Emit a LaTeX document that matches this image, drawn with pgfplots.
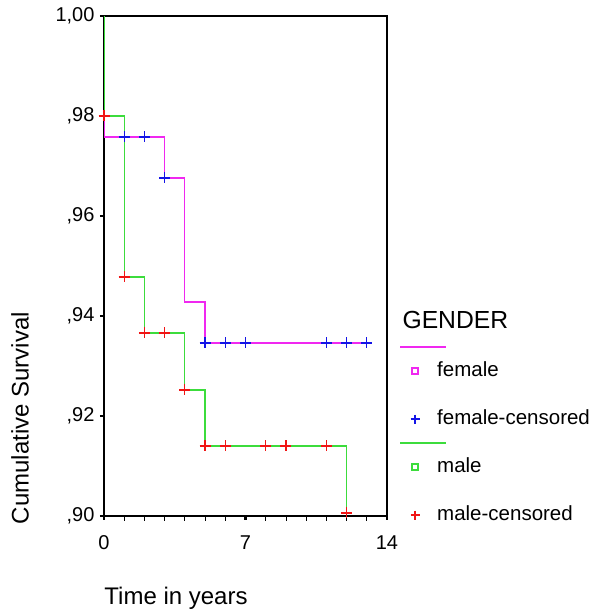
\documentclass[border=0pt]{standalone}
\usepackage{pgfplots}
\pgfplotsset{compat=1.18}
\usepackage{fontspec}
\setmainfont{Liberation Sans}
\definecolor{kmmag}{RGB}{240,40,240}
\definecolor{kmgreen}{RGB}{60,220,60}
\definecolor{kmblue}{RGB}{20,20,230}
\definecolor{kmred}{RGB}{240,20,20}
\newcommand\lbl{\fontsize{20}{24}\selectfont}
\newcommand\lblbig{\fontsize{24}{29}\selectfont}

\pgfplotsset{
  limg/.style={legend image code/.code={%
      \path[draw=none,fill=none] (0pt,-3pt) rectangle (37pt,3pt);
      \draw[overlay,line width=1.5pt,color=#1,opacity=1] (0pt,0pt) -- (46pt,0pt);}},
  pimg/.style={legend image code/.code={%
      \path[draw=none,fill=none] (0pt,-3pt) rectangle (37pt,3pt);
      \draw[only marks,mark=+,mark size=4.5pt,line width=1.5pt,color=#1,opacity=1,
            mark options={color=#1,line width=1.5pt}] plot coordinates {(15pt,0pt)};}},
  simg/.style={legend image code/.code={%
      \path[draw=none,fill=none] (0pt,-3pt) rectangle (37pt,3pt);
      \draw[only marks,mark=square,mark size=3pt,line width=1.5pt,color=#1,opacity=1,
            mark options={color=#1,line width=1.5pt}] plot coordinates {(15pt,0pt)};}},
  bimg/.style={legend image code/.code={\path[draw=none,fill=none] (0pt,-3pt) rectangle (37pt,3pt);}},
}

\begin{document}
\begin{tikzpicture}[x=1pt,y=1pt]
\path[use as bounding box] (0,0) rectangle (600,616);
\begin{axis}[
  at={(104pt,100pt)}, anchor=south west,
  scale only axis, width=283pt, height=500pt,
  xmin=0, xmax=14, ymin=0.90, ymax=1.00,
  axis line style={line width=1.1pt},
  xtick={0,7,14}, xticklabels={0,7,14},
  minor xtick={1,2,3,4,5,6,8,9,10,11,12,13},
  ytick={0.90,0.92,0.94,0.96,0.98,1.00},
  yticklabels={{,90},{,92},{,94},{,96},{,98},{1,00}},
  tick align=outside, tick pos=left,
  major tick length=4pt, minor tick length=5pt,
  every major tick/.append style={black, line width=2.2pt},
  every minor tick/.append style={black, line width=0.8pt},
  tick label style={font=\lbl},
  xticklabel style={yshift=-12pt},
  yticklabel style={xshift=-2pt},
  legend style={draw=none, fill=none, inner sep=0pt,
    at={(rel axis cs:1.046,0.356)}, anchor=north west,
    row sep=6pt, font=\fontsize{20.5}{24}\selectfont,
    nodes={inner sep=0pt, text height=14pt, text depth=4pt}},
  legend cell align=left,
]
% female survival step line
\addplot[kmmag, line width=1.2pt, const plot, forget plot] coordinates {
  (0,1.0) (0,0.9758) (3,0.9676) (4,0.9428) (5,0.9346) (13,0.9346)};
% male survival step line
\addplot[kmgreen, line width=1.2pt, const plot, forget plot] coordinates {
  (0,1.0) (0,0.9800) (1,0.9478) (2,0.9366) (4,0.9252) (5,0.9140) (12,0.9006)};
% censored
\addplot[only marks, mark=+, kmblue, mark size=5.5pt, line width=1.2pt, forget plot] coordinates {
  (1,0.9758) (2,0.9758) (3,0.9676) (5,0.9346) (6,0.9346) (7,0.9346)
  (11,0.9346) (12,0.9346) (13,0.9346)};
\addplot[only marks, mark=+, kmred, mark size=5.5pt, line width=1.2pt, forget plot] coordinates {
  (0,0.9800) (1,0.9478) (2,0.9366) (3,0.9366) (4,0.9252) (5,0.9140)
  (6,0.9140) (8,0.9140) (9,0.9140) (11,0.9140) (12,0.9006)};

\addlegendimage{limg=kmmag}
\addlegendentry{}
\addlegendimage{simg=kmmag}
\addlegendentry{female}
\addlegendimage{bimg}
\addlegendentry{}
\addlegendimage{pimg=kmblue}
\addlegendentry{female-censored}
\addlegendimage{limg=kmgreen}
\addlegendentry{}
\addlegendimage{simg=kmgreen}
\addlegendentry{male}
\addlegendimage{bimg}
\addlegendentry{}
\addlegendimage{pimg=kmred}
\addlegendentry{male-censored}
\end{axis}
\node[anchor=west, font=\fontsize{24.7}{29}\selectfont] at (399,296) {GENDER};
\node[rotate=90, font=\lblbig] at (20,198) {Cumulative Survival};
\node[font=\lblbig] at (176,18) {Time in years};
\end{tikzpicture}
\end{document}
